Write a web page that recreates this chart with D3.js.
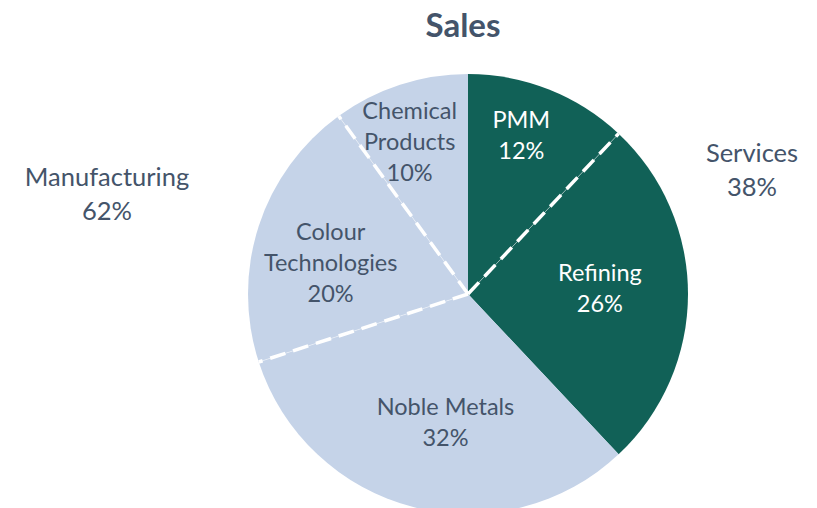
<!DOCTYPE html>
<html>
<head>
<meta charset="utf-8">
<script src="https://cdn.jsdelivr.net/npm/d3@7"></script>
<style>
  body { margin: 0; background: #fff; }
  svg text { font-family: Lato, "Open Sans", sans-serif; }
</style>
</head>
<body>
<svg id="chart" width="817" height="508"></svg>
<script>
// ========== Data ==========
const segments = ['PMM', 'Refining', 'Noble Metals', 'Colour Technologies', 'Chemical Products'];
const segmentLines = [['PMM'], ['Refining'], ['Noble Metals'], ['Colour', 'Technologies'], ['Chemical', 'Products']];
const shares = [12, 26, 32, 20, 10];
const segmentGroup = ['Services', 'Services', 'Manufacturing', 'Manufacturing', 'Manufacturing'];
const groups = ['Services', 'Manufacturing'];
const groupShares = [38, 62];

// ========== Config ==========
const config = {
  cx: 468, cy: 294, r: 220,
  colors: { Services: '#116157', Manufacturing: '#c5d3e8' },
  text: { Services: '#ffffff', Manufacturing: '#44546a' },
  // label distance from centre, as a share of the radius (Excel best-fit look)
  labelRadius: [0.76, 0.6, 0.59, 0.64, 0.74],
  labelAngleShift: [-3, -2.6, -4.4, -5.3, -3],
  groupLabelPos: { Services: [752, 170], Manufacturing: [107, 194] },
  lineHeight: 31
};

const svg = d3.select('#chart');

// ========== Title ==========
svg.append('text')
  .attr('x', 463).attr('y', 37)
  .attr('text-anchor', 'middle')
  .attr('font-size', 33).attr('font-weight', 700)
  .attr('fill', '#44546a')
  .text('Sales');

// ========== Pie ==========
const pie = d3.pie().sort(null).value(d => d);
const arcs = pie(shares);
const arc = d3.arc().innerRadius(0).outerRadius(config.r);

const g = svg.append('g').attr('transform', `translate(${config.cx},${config.cy})`);

g.selectAll('path.slice')
  .data(arcs)
  .join('path')
  .attr('class', 'slice')
  .attr('d', arc)
  .attr('fill', (d, i) => config.colors[segmentGroup[i]]);

// Dashed separators between slices of the same group
arcs.forEach((d, i) => {
  const next = (i + 1) % arcs.length;
  if (segmentGroup[i] !== segmentGroup[next]) return;
  const a = d.endAngle;
  const x2 = config.r * Math.sin(a), y2 = -config.r * Math.cos(a);
  g.append('line')
    .attr('x1', 0).attr('y1', 0).attr('x2', x2).attr('y2', y2)
    .attr('stroke', '#ffffff').attr('stroke-width', 0.6).attr('stroke-opacity', 0.7);
  g.append('line')
    .attr('x1', 0).attr('y1', 0).attr('x2', x2).attr('y2', y2)
    .attr('stroke', '#ffffff').attr('stroke-width', 3.5)
    .attr('stroke-dasharray', '16 8');
});

// ========== Slice labels ==========
arcs.forEach((d, i) => {
  const mid = (d.startAngle + d.endAngle) / 2 + config.labelAngleShift[i] * Math.PI / 180;
  const rr = config.r * config.labelRadius[i];
  const x = rr * Math.sin(mid), y = -rr * Math.cos(mid);
  const lines = segmentLines[i].concat([shares[i] + '%']);
  const y0 = y - (lines.length - 1) * config.lineHeight / 2;
  const t = g.append('text')
    .attr('text-anchor', 'middle')
    .attr('font-size', 23.5)
    .attr('fill', config.text[segmentGroup[i]]);
  lines.forEach((ln, k) => {
    t.append('tspan')
      .attr('x', x).attr('y', y0 + k * config.lineHeight)
      .attr('dy', '0.35em')
      .text(ln);
  });
});

// ========== Group labels ==========
groups.forEach((grp, i) => {
  const [x, y] = config.groupLabelPos[grp];
  const t = svg.append('text')
    .attr('text-anchor', 'middle')
    .attr('font-size', 25.5)
    .attr('fill', '#44546a');
  [grp, groupShares[i] + '%'].forEach((ln, k) => {
    t.append('tspan')
      .attr('x', x).attr('y', y - 17 + k * 34)
      .attr('dy', '0.35em')
      .text(ln);
  });
});
</script>
</body>
</html>
